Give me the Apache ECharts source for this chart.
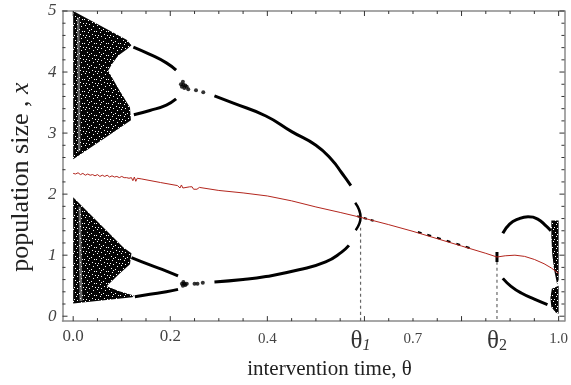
<!DOCTYPE html>
<html><head><meta charset="utf-8">
<script src="https://cdn.jsdelivr.net/npm/echarts@6/dist/echarts.min.js"></script>
<style>html,body{margin:0;padding:0;background:#fff}#c{width:571px;height:385px}</style>
</head><body><div id="c"></div><script>
// ---- axis ticks and labels ----
const xTickMajor = [0, 0.2, 0.4, 0.6, 0.8, 1.0];
const xTickMinor = [0.05, 0.1, 0.15, 0.25, 0.3, 0.35, 0.45, 0.5, 0.55, 0.65, 0.7, 0.75, 0.85, 0.9, 0.95];
const xLabelValues = [0, 0.2, 0.4, 0.592, 0.7, 0.873, 1.0];
const xLabelTexts = ['0.0', '0.2', '0.4', 'θ1', '0.7', 'θ2', '1.0'];
const yTickMajor = [0, 1, 2, 3, 4, 5];
const yTickMinor = [0.2, 0.4, 0.6, 0.8, 1.2, 1.4, 1.6, 1.8, 2.2, 2.4, 2.6, 2.8, 3.2, 3.4, 3.6, 3.8, 4.2, 4.4, 4.6, 4.8];
const yLabelTexts = ['0', '1', '2', '3', '4', '5'];

// ---- chaotic regions (outlines) ----
const chaosUpper = [[0,5.0],[0.11,4.53],[0.12,4.44],[0.11,4.37],[0.093,4.27],[0.08,4.13],[0.072,4.02],[0.093,3.73],[0.117,3.42],[0.119,3.21],[0.06,2.89],[0,2.57]];
const chaosLower = [[0,1.95],[0.103,1.13],[0.12,1.03],[0.117,0.85],[0.093,0.68],[0.069,0.49],[0.095,0.41],[0.125,0.34],[0.122,0.31],[0,0.21]];
const chaosRightUpper = [[0.985,1.57],[1.0,1.57],[1.0,0.6],[0.997,0.52],[0.991,0.75],[0.987,1.0],[0.985,1.3]];
const chaosRightLower = [[0.986,0.45],[1.0,0.5],[1.0,0.04],[0.994,0.06],[0.985,0.15],[0.983,0.3]];
const gapUpper = [[0.008,4.9],[0.013,4.88],[0.015,2.72],[0.010,2.68]];
const gapLower = [[0.011,1.8],[0.016,1.78],[0.019,0.25],[0.013,0.25]];

// ---- periodic branches ----
const p2UpperHigh = [[0.124,4.41],[0.158,4.29],[0.192,4.15],[0.212,4.03]];
const p2UpperLow = [[0.125,3.30],[0.158,3.37],[0.192,3.46],[0.212,3.56]];
const p2LowerHigh = [[0.12,0.96],[0.158,0.84],[0.192,0.74],[0.216,0.66]];
const p2LowerLow = [[0.127,0.32],[0.158,0.36],[0.192,0.40],[0.216,0.44]];
const mergeDots = [[0.222,3.80],[0.224,3.76],[0.226,3.84],[0.227,3.79],[0.229,3.74],[0.231,3.78],[0.234,3.76],[0.237,3.72],[0.253,3.70],[0.268,3.67],
                   [0.224,0.53],[0.226,0.50],[0.227,0.56],[0.229,0.53],[0.231,0.51],[0.234,0.53],[0.25,0.53],[0.256,0.53],[0.267,0.55]];
const curveHigh = [[0.291,3.61],[0.33,3.49],[0.397,3.28],[0.451,3.02],[0.5,2.80],[0.533,2.56],[0.553,2.35],[0.563,2.24],[0.572,2.14]];
const curveLow = [[0.291,0.56],[0.35,0.60],[0.397,0.65],[0.465,0.76],[0.52,0.89],[0.553,1.05],[0.568,1.16]];
const chevron1 = [[0.581,1.86],[0.592,1.62],[0.582,1.41]];
const mark2 = [[0.873,0.89],[0.873,1.05]];
const fixedDotsA = [[0.585,1.64],[0.62,1.56]];
const fixedDotsB = [[0.71,1.38],[0.76,1.26],[0.82,1.11]];
const arcHigh = [[0.885,1.36],[0.899,1.51],[0.916,1.59],[0.937,1.63],[0.957,1.59],[0.974,1.48],[0.984,1.40]];
const arcLow = [[0.885,0.62],[0.902,0.49],[0.923,0.38],[0.95,0.28],[0.977,0.19]];

// ---- mean (red) line ----
const meanTheta = [0,0.005,0.01,0.015,0.02,0.025,0.03,0.035,0.04,0.045,0.05,0.055,0.06,0.065,0.07,0.075,0.08,0.085,0.09,0.095,0.1,0.105,0.11,0.115,0.12,0.123,0.126,0.129,0.132,0.135,0.14,0.18,0.215,0.218,0.22,0.223,0.226,0.23,0.24,0.245,0.248,0.255,0.26,0.3,0.35,0.4,0.45,0.5,0.55,0.592,0.65,0.7,0.75,0.8,0.85,0.873,0.89,0.91,0.93,0.95,0.97,0.985,1.0];
const meanValue = [2.34,2.33,2.35,2.32,2.34,2.31,2.33,2.31,2.32,2.30,2.32,2.29,2.31,2.29,2.31,2.28,2.30,2.28,2.29,2.27,2.29,2.27,2.27,2.26,2.27,2.22,2.28,2.21,2.26,2.24,2.25,2.19,2.14,2.14,2.10,2.15,2.10,2.12,2.12,2.12,2.08,2.08,2.11,2.06,2.02,1.97,1.89,1.79,1.70,1.62,1.50,1.39,1.27,1.15,1.03,0.97,0.99,1.00,0.98,0.93,0.86,0.79,0.70];

// ---- dashed markers for theta1 / theta2 ----
const theta1 = 0.592, theta2 = 0.873;
const dash1 = [[theta1,1.45],[theta1,-0.08]];
const dash2 = [[theta2,0.89],[theta2,-0.08]];

const X_MIN = -0.022, X_MAX = 1.012, Y_MIN = -0.08, Y_MAX = 5;
const serif = '"Liberation Serif","DejaVu Serif",serif';

// speckle texture for the chaotic bands (fixed hand-placed holes)
const holes = [[1,1],[5,0],[9,2],[3,4],[7,5],[10,7],[0,7],[4,8],[8,10],[2,11],[11,11],[5,6]];
function speckle() {
  const c = document.createElement('canvas'); c.width = 12; c.height = 12;
  const g = c.getContext('2d'); g.fillStyle = '#050505'; g.fillRect(0, 0, 12, 12);
  g.fillStyle = '#ffffff'; holes.forEach(h => g.fillRect(h[0], h[1], 1, 1));
  return {image: c, repeat: 'repeat'};
}
const speckleFill = speckle();

function poly(verts, fill) {
  return {
    type: 'custom', xAxisIndex: 0, yAxisIndex: 0, data: verts, encode: {x: 0, y: 1}, silent: true,
    renderItem: function (params, api) {
      if (params.dataIndex !== 0) return null;
      return {type: 'polygon', shape: {points: verts.map(p => api.coord(p))}, style: {fill: fill}};
    }
  };
}
function curve(data, w, color, dash) {
  return {type: 'line', xAxisIndex: 0, yAxisIndex: 0, data: data, symbol: 'none', smooth: true, silent: true,
    lineStyle: {color: color || '#000', width: w, type: dash || 'solid'}};
}
// tick marks on all four sides, placed through the axis scales
function ticks(values, dim, len) {
  return {
    type: 'custom', xAxisIndex: 0, yAxisIndex: 0, silent: true, clip: false, z: 10,
    data: values.map(v => dim === 'x' ? [v, Y_MIN] : [X_MIN, v]), encode: {x: 0, y: 1},
    renderItem: function (params, api) {
      const st = {stroke: '#333', lineWidth: 1};
      if (dim === 'x') {
        const v = api.value(0), b = api.coord([v, Y_MIN]), t = api.coord([v, Y_MAX]);
        return {type: 'group', children: [
          {type: 'line', shape: {x1: b[0], y1: b[1], x2: b[0], y2: b[1] - len}, style: st},
          {type: 'line', shape: {x1: t[0], y1: t[1], x2: t[0], y2: t[1] + len}, style: st}]};
      }
      const v = api.value(1), l = api.coord([X_MIN, v]), r = api.coord([X_MAX, v]);
      return {type: 'group', children: [
        {type: 'line', shape: {x1: l[0], y1: l[1], x2: l[0] + len, y2: l[1]}, style: st},
        {type: 'line', shape: {x1: r[0], y1: r[1], x2: r[0] - len, y2: r[1]}, style: st}]};
    }
  };
}

const near = (a, b) => Math.abs(a - b) < 1e-6;
function xLabel(v) {
  const i = xLabelValues.findIndex(u => near(u, v));
  if (i < 0) return '';
  const t = xLabelTexts[i];
  if (t === 'θ1') return '{th|θ}{s1|1}';
  if (t === 'θ2') return '{th|θ}{s2|2}';
  if (t === '0.0' || t === '0.2') return '{big|' + t + '}';
  return '{sm|' + t + '}';
}
const axLine = {show: true, onZero: false, lineStyle: {color: '#8a8a8a', width: 1.5}};

const chart = echarts.init(document.getElementById('c'), null, {renderer: 'canvas'});
chart.setOption({
  animation: false,
  backgroundColor: '#fff',
  grid: {left: 62.5, right: 4, top: 11, bottom: 60},
  xAxis: [{
    type: 'value', min: X_MIN, max: X_MAX, position: 'bottom',
    axisLine: axLine, axisTick: {show: false}, splitLine: {show: false},
    axisLabel: {
      show: true, customValues: xLabelValues, formatter: xLabel, margin: 7,
      rich: {
        big: {fontFamily: serif, fontSize: 17, color: '#444'},
        sm: {fontFamily: serif, fontSize: 15, color: '#444', padding: [3, 0, 0, 0]},
        th: {fontFamily: serif, fontSize: 25, color: '#333'},
        s1: {fontFamily: serif, fontSize: 16, fontStyle: 'italic', color: '#333', padding: [10, 0, 0, 0]},
        s2: {fontFamily: serif, fontSize: 16, color: '#333', padding: [10, 0, 0, 0]}
      }
    },
    name: 'intervention time, θ', nameLocation: 'middle', nameGap: 34,
    nameTextStyle: {fontFamily: serif, fontSize: 21, color: '#222', padding: [0, 0, 0, 32]}
  }, {
    type: 'value', min: X_MIN, max: X_MAX, position: 'top',
    axisLine: axLine, axisTick: {show: false}, axisLabel: {show: false}, splitLine: {show: false}
  }],
  yAxis: [{
    type: 'value', min: Y_MIN, max: Y_MAX, position: 'left',
    axisLine: axLine, axisTick: {show: false}, splitLine: {show: false},
    axisLabel: {
      show: true, customValues: yTickMajor, margin: 6,
      formatter: v => { const i = yTickMajor.findIndex(u => near(u, v)); return i < 0 ? '' : yLabelTexts[i]; },
      fontFamily: serif, fontSize: 17, fontStyle: 'italic', color: '#444'
    },
    name: '{a|population size , }{b|x}', nameLocation: 'middle', nameGap: 28,
    nameTextStyle: {padding: [0, 22, 0, 0], rich: {a: {fontFamily: serif, fontSize: 26, color: '#222'}, b: {fontFamily: serif, fontSize: 26, fontStyle: 'italic', color: '#222'}}}
  }, {
    type: 'value', min: Y_MIN, max: Y_MAX, position: 'right',
    axisLine: axLine, axisTick: {show: false}, axisLabel: {show: false}, splitLine: {show: false}
  }],
  series: [
    poly(chaosUpper, speckleFill), poly(chaosLower, speckleFill),
    poly(chaosRightUpper, speckleFill), poly(chaosRightLower, speckleFill),
    poly(gapUpper, 'rgba(255,255,255,0.4)'), poly(gapLower, 'rgba(255,255,255,0.4)'),
    curve(p2UpperHigh, 3), curve(p2UpperLow, 3), curve(p2LowerHigh, 3), curve(p2LowerLow, 3),
    curve(curveHigh, 3), curve(curveLow, 3), curve(chevron1, 2.5), curve(mark2, 3),
    curve(arcHigh, 3), curve(arcLow, 3),
    curve(fixedDotsA, 2, '#000', [3, 4]), curve(fixedDotsB, 2, '#000', [4, 6]),
    {type: 'scatter', xAxisIndex: 0, yAxisIndex: 0, data: mergeDots, symbol: 'circle', symbolSize: 4, itemStyle: {color: '#000'}, silent: true},
    curve(dash1, 1.2, '#666', [3, 3]), curve(dash2, 1.2, '#666', [3, 3]),
    Object.assign(curve(meanData(), 1, '#b3261e'), {smooth: false, z: 5}),
    ticks(xTickMajor, 'x', 5), ticks(xTickMinor, 'x', 3),
    ticks(yTickMajor, 'y', 5), ticks(yTickMinor, 'y', 3)
  ]
});
function meanData() { return meanTheta.map((t, i) => [t, meanValue[i]]); }
</script></body></html>
